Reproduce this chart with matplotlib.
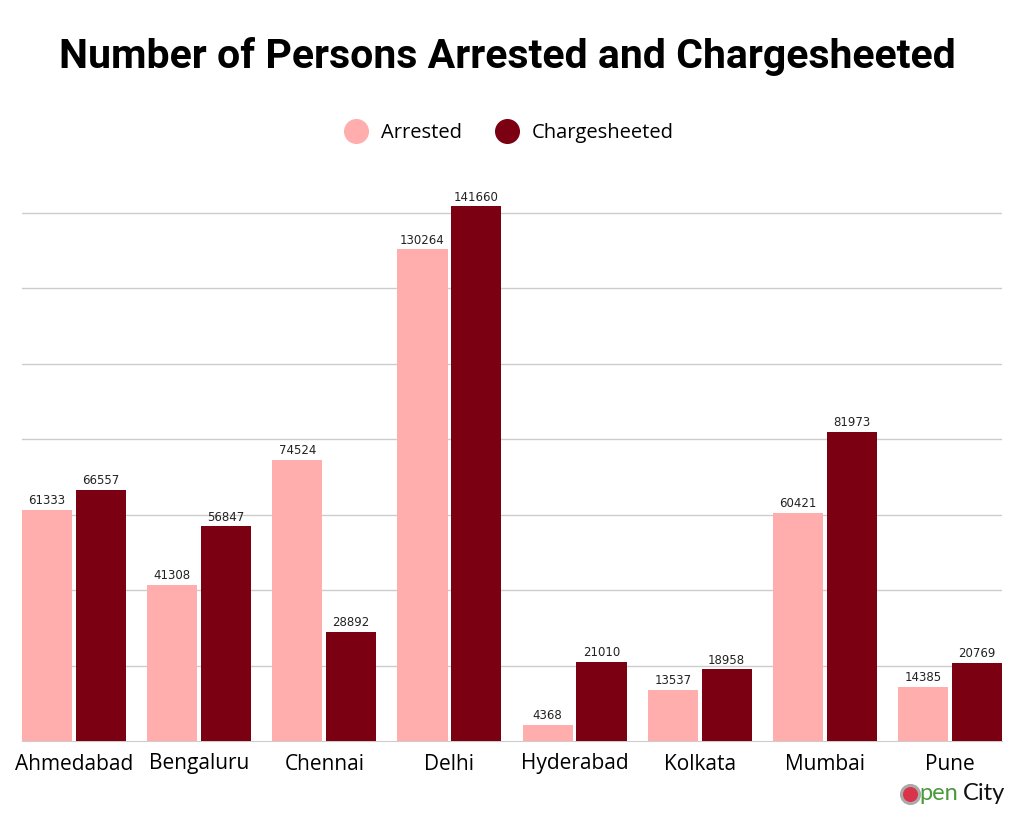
import matplotlib.pyplot as plt
import numpy as np
from matplotlib.lines import Line2D

cities = ['Ahmedabad', 'Bengaluru', 'Chennai', 'Delhi', 'Hyderabad', 'Kolkata', 'Mumbai', 'Pune']
arrested = [61333, 41308, 74524, 130264, 4368, 13537, 60421, 14385]
chargesheeted = [66557, 56847, 28892, 141660, 21010, 18958, 81973, 20769]

pink = '#FFADAD'
dark = '#7B0012'

fig = plt.figure(figsize=(10.24, 8.19), dpi=100)
ax = fig.add_axes([22 / 1024, 1 - 741 / 819, 980 / 1024, (741 - 175) / 819])

x = np.arange(len(cities))
w = 0.4
off = 0.215
b1 = ax.bar(x - off, arrested, w, color=pink, zorder=3)
b2 = ax.bar(x + off, chargesheeted, w, color=dark, zorder=3)

for bars, vals in ((b1, arrested), (b2, chargesheeted)):
    for b, v in zip(bars, vals):
        ax.text(b.get_x() + b.get_width() / 2, v + 700, str(v),
                ha='center', va='bottom', fontsize=8.5, color='#222222')

ax.set_xlim(-0.415, 7.415)
ax.set_ylim(0, 150000)
ax.set_yticks(np.arange(20000, 150000, 20000))
ax.yaxis.grid(True, color='#cccccc', linewidth=1, zorder=0)
ax.set_yticklabels([])
ax.tick_params(axis='y', length=0)
ax.set_xticks(x)
ax.set_xticklabels(cities, fontsize=15, family='Open Sans')
ax.tick_params(axis='x', length=0, pad=9)
for s in ['top', 'right', 'left']:
    ax.spines[s].set_visible(False)
ax.spines['bottom'].set_color('#cccccc')

fig.text(0.495, 0.931, 'Number of Persons Arrested and Chargesheeted',
         ha='center', va='center', fontsize=29.5, fontweight='bold', family='Roboto')

handles = [Line2D([], [], marker='o', linestyle='', markersize=17, color=pink),
           Line2D([], [], marker='o', linestyle='', markersize=17, color=dark)]
fig.legend(handles, ['Arrested', 'Chargesheeted'], loc='center', bbox_to_anchor=(0.493, 0.838),
           ncol=2, frameon=False, prop={'family': 'Open Sans', 'size': 14.5},
           handletextpad=0.25, columnspacing=1.2)

# OpenCity logo
fig.add_artist(Line2D([0.889], [0.031], marker='o', markersize=13, markerfacecolor='#d9344a',
                      markeredgecolor='#aaaaaa', markeredgewidth=2.2, transform=fig.transFigure))
fig.text(0.898, 0.031, 'pen', fontsize=17, color='#4a9a3c', ha='left', va='center', family='Lato')
fig.text(0.940, 0.031, 'City', fontsize=17, color='#111111', ha='left', va='center', family='Lato')

fig.savefig('out.png', dpi=100)
